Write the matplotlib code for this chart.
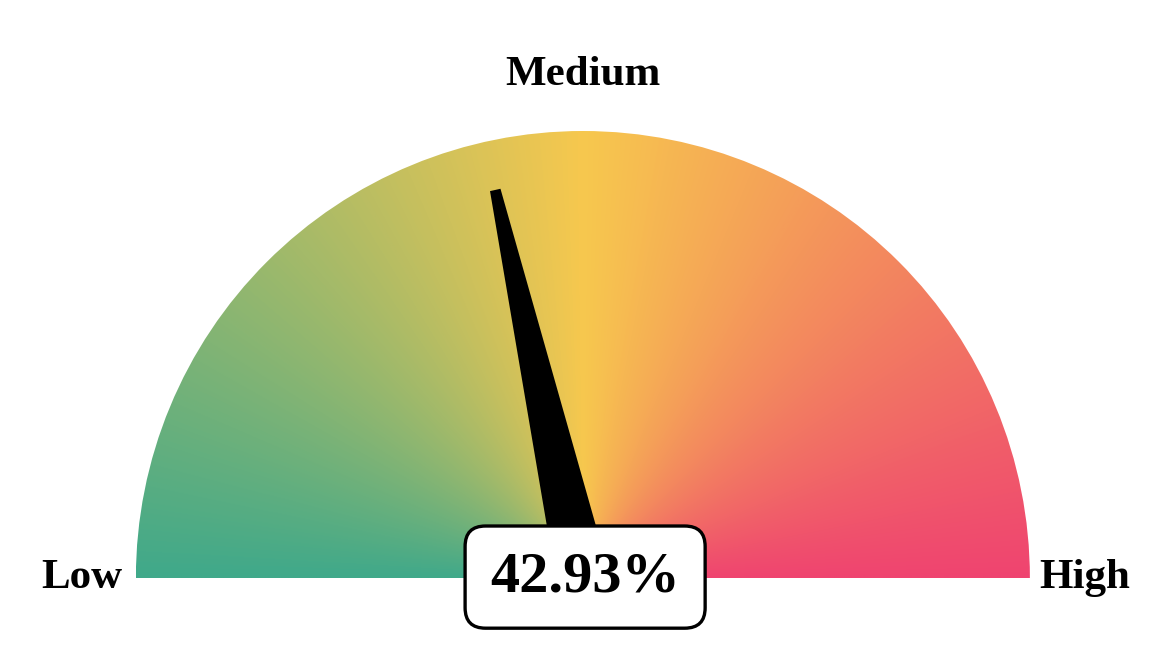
import numpy as np
import matplotlib.pyplot as plt
from matplotlib.colors import LinearSegmentedColormap
from matplotlib.patches import Wedge, Polygon

# gauge reading and labels
value = 42.93
zone_labels = ['Low', 'Medium', 'High']
zone_colors = ['#40a98a', '#f7c84e', '#ef4470']

plt.rcParams['font.family'] = ['Liberation Serif', 'DejaVu Serif']

fig = plt.figure(figsize=(11.68, 6.71), dpi=100)
ax = fig.add_axes([0, 0, 1, 1])
ax.set_xlim(-1.304, 1.309)
ax.set_ylim(-0.208, 1.293)
ax.set_aspect('equal')
ax.axis('off')

# conic gradient clipped to a half disc
cmap = LinearSegmentedColormap.from_list('gauge', zone_colors)
xs = np.linspace(-1, 1, 900)
ys = np.linspace(0, 1, 450)
gx, gy = np.meshgrid(xs, ys)
t = 1 - np.arctan2(gy, gx) / np.pi
im = ax.imshow(t, cmap=cmap, extent=(-1, 1, 0, 1), origin='lower',
               vmin=0, vmax=1, interpolation='bilinear', zorder=1)
half = Wedge((0, 0), 1, 0, 180, transform=ax.transData, facecolor='none', edgecolor='none')
ax.add_patch(half)
im.set_clip_path(half)

# needle
ang = np.pi * (1 - value / 100)
d = np.array([np.cos(ang), np.sin(ang)])
n = np.array([-d[1], d[0]])
length = 0.89
pts = [0.06 * n, length * d + 0.012 * n, length * d - 0.012 * n, -0.06 * n]
ax.add_patch(Polygon(pts, closed=True, facecolor='black', edgecolor='none', zorder=3))

# labels
ax.text(-1.03, -0.022, zone_labels[0], ha='right', va='baseline',
        fontsize=31, fontweight='bold')
ax.text(0, 1.103, zone_labels[1], ha='center', va='baseline',
        fontsize=31, fontweight='bold')
ax.text(1.022, -0.022, zone_labels[2], ha='left', va='baseline',
        fontsize=31, fontweight='bold')

ax.text(0.005, 0.002, f'{value:.2f}%', ha='center', va='center',
        fontsize=42, fontweight='bold', zorder=5,
        bbox=dict(boxstyle='round,pad=0.43,rounding_size=0.35',
                  facecolor='white', edgecolor='black', linewidth=2.4))

fig.savefig('out.png', dpi=100)
